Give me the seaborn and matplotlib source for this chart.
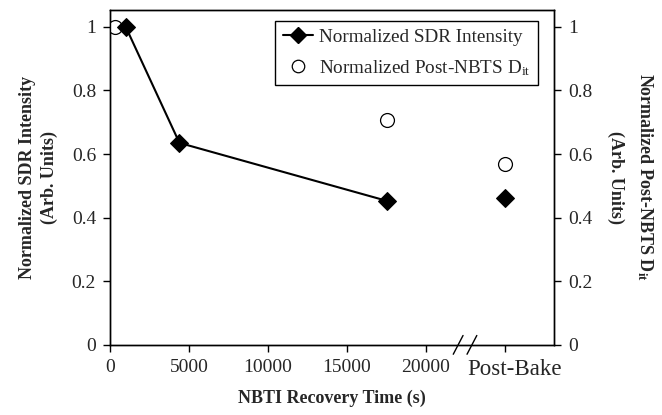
import matplotlib
matplotlib.use("Agg")
import matplotlib.pyplot as plt
import seaborn as sns
import pandas as pd
from matplotlib.lines import Line2D

# ---- data ----
recovery_time = [1000, 4400, 17500]
sdr_intensity = [1.0, 0.635, 0.453]
postbake_x = 25000
sdr_postbake = 0.462
dit_time = [300, 17500]
dit_values = [1.0, 0.708]
dit_postbake = 0.569
xtick_vals = [0, 5000, 10000, 15000, 20000, 25000]
xtick_labels = ["0", "5000", "10000", "15000", "20000", ""]
postbake_label = "Post-Bake"
postbake_label_x = 25600
ytick_vals = [0, 0.2, 0.4, 0.6, 0.8, 1]
ytick_labels = ["0", "0.2", "0.4", "0.6", "0.8", "1"]

sns.set_theme(style="white")
plt.rcParams["font.family"] = ["Liberation Serif", "DejaVu Serif"]
plt.rcParams["mathtext.fontset"] = "custom"
plt.rcParams["mathtext.rm"] = "Liberation Serif"
plt.rcParams["mathtext.it"] = "Liberation Serif:italic"
plt.rcParams["mathtext.bf"] = "Liberation Serif:bold"

fig = plt.figure(figsize=(6.62, 4.15), dpi=100)
ax = fig.add_axes([0.166, 0.169, 0.671, 0.807])

df_sdr = pd.DataFrame({"t": recovery_time, "v": sdr_intensity})
df_sdr_pb = pd.DataFrame({"t": [postbake_x], "v": [sdr_postbake]})
df_dit = pd.DataFrame({"t": dit_time + [postbake_x], "v": dit_values + [dit_postbake]})

sns.lineplot(data=df_dit, x="t", y="v", ax=ax, linestyle="none", marker="o",
             markersize=10, markerfacecolor="white", markeredgecolor="black",
             markeredgewidth=0.9, color="black", zorder=3)
sns.lineplot(data=df_sdr, x="t", y="v", ax=ax, color="black", linewidth=1.5,
             marker="D", markersize=9, markerfacecolor="black",
             markeredgecolor="black", zorder=4)
sns.lineplot(data=df_sdr_pb, x="t", y="v", ax=ax, linestyle="none", marker="D",
             markersize=9, markerfacecolor="black", markeredgecolor="black",
             color="black", zorder=4)

ax.set_xlim(0, 28100)
ax.set_ylim(0, 1.053)
ax.set_xticks(xtick_vals)
ax.set_xticklabels(xtick_labels, fontsize=14)
ax.set_xticks([postbake_label_x], minor=True)
ax.set_xticklabels([postbake_label], minor=True, fontsize=16.5)
ax.tick_params(axis="x", which="minor", length=0, bottom=True, pad=10)
ax.set_yticks(ytick_vals)
ax.set_yticklabels(ytick_labels, fontsize=14)
ax.tick_params(axis="both", which="major", direction="out", length=5, width=1,
               color="black", bottom=True, left=True, pad=5)

for s in ax.spines.values():
    s.set_color("black")
    s.set_linewidth(1.0)

ax.set_xlabel("NBTI Recovery Time (s)", fontsize=13, fontweight="bold", labelpad=7)
ax.set_ylabel("Normalized SDR Intensity\n(Arb. Units)", fontsize=13,
              fontweight="bold", labelpad=10, linespacing=1.35)

ax2 = ax.twinx()
ax2.set_ylim(0, 1.053)
ax2.set_yticks(ytick_vals)
ax2.set_yticklabels(ytick_labels, fontsize=14)
ax2.tick_params(axis="y", direction="out", length=5, width=1, color="black",
                right=True, pad=5)
for s in ax2.spines.values():
    s.set_color("black")
    s.set_linewidth(1.0)
ax2.set_ylabel("Normalized Post-NBTS D$_{\\mathbf{it}}$\n(Arb. Units)", fontsize=13,
               fontweight="bold", rotation=270, labelpad=45, linespacing=1.8)

# axis break marks
for xb in (0.784, 0.815):
    ax.plot([xb - 0.011, xb + 0.011], [-0.028, 0.028], transform=ax.transAxes,
            color="black", linewidth=1.0, clip_on=False, zorder=5)

handles = [
    Line2D([0], [0], color="black", linewidth=1.5, marker="D", markersize=8,
           markerfacecolor="black"),
    Line2D([0], [0], color="black", linestyle="none", marker="o", markersize=9,
           markerfacecolor="white", markeredgewidth=0.9),
]
leg = ax.legend(handles, ["Normalized SDR Intensity", "Normalized Post-NBTS D$_{\\mathrm{it}}$"],
                loc="upper right", bbox_to_anchor=(0.964, 0.967), fontsize=13.8,
                frameon=True, fancybox=False, framealpha=1, edgecolor="black",
                handlelength=1.6, handletextpad=0.3, borderpad=0.4, labelspacing=0.62,
                borderaxespad=0)
leg.get_frame().set_linewidth(1.0)

fig.savefig("out.png", dpi=100)
